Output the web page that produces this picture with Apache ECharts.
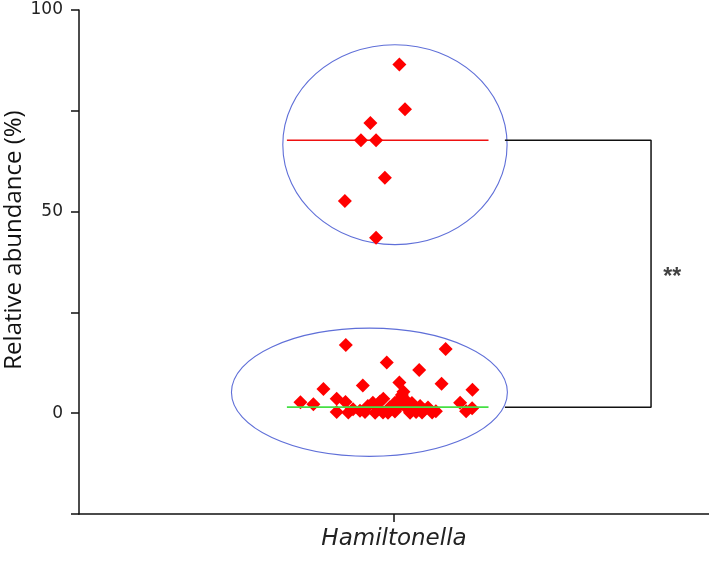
<!DOCTYPE html>
<html><head><meta charset="utf-8">
<script src="https://cdn.jsdelivr.net/npm/echarts@6/dist/echarts.min.js"></script>
<style>html,body{margin:0;padding:0;background:#fff}#c{width:709px;height:562px}</style>
</head><body><div id="c"></div>
<script>
// Category and tick labels
const categories = ['Hamiltonella'];
const yTicks = [-25, 0, 25, 50, 75, 100];
const yLabelled = [0, 50, 100];
// Group with high abundance: [jitter, value %]
const highGroup = [
  [0.017, 86.5], [0.035, 75.4], [-0.075, 72.0], [-0.105, 67.7],
  [-0.057, 67.7], [-0.029, 58.4], [-0.156, 52.6], [-0.057, 43.5]
];
// Group with low abundance: [jitter, value %]
const lowGroup = [
  [-0.153, 16.9], [-0.023, 12.6], [0.164, 15.9], [0.080, 10.7],
  [-0.224, 6.0], [-0.099, 6.9], [0.017, 7.6], [0.030, 5.3],
  [0.151, 7.3], [0.249, 5.8], [-0.297, 2.7], [-0.256, 2.2],
  [-0.182, 3.6], [-0.154, 2.8], [-0.182, 0.3], [-0.145, 0.2],
  [0.210, 2.6], [0.229, 0.5], [0.248, 1.2], [-0.034, 3.6],
  [-0.108, 0.6], [-0.083, 1.8], [-0.067, 2.6], [-0.051, 1.2],
  [-0.035, 0.2], [-0.013, 1.5], [0.003, 0.4], [0.019, 2.0],
  [0.035, 3.4], [0.044, 1.0], [0.057, 2.5], [0.070, 0.3],
  [0.083, 1.8], [0.095, 0.8], [0.108, 1.4], [0.121, 0.2],
  [0.133, 0.5], [-0.092, 0.3], [-0.060, 0.1], [-0.019, 0.1],
  [0.013, 3.0], [0.051, 0.1], [0.089, 0.2], [0.025, 4.5],
  [0.003, 2.6], [-0.044, 2.9], [-0.130, 1.0]
];
// Medians
const highMedian = 67.7;
const lowMedian = 1.5;
const medianSpan = [-0.34, 0.30];
// Group ellipses: [centre jitter, centre value, half width (jitter), half height (%)]
const ellipses = [
  [0.003, 66.6, 0.356, 24.8],
  [-0.078, 5.2, 0.438, 15.9]
];
// Significance bracket
const bracketX = [0.352, 0.816];
const sigLabel = '**';
const sigPos = [0.883, 33.7];
// Category tick position on the jitter scale
const categoryTicks = [0];

const chart = echarts.init(document.getElementById('c'), null, {renderer: 'canvas'});
const axisColor = '#111';
const option = {
  animation: false,
  backgroundColor: '#ffffff',
  grid: {left: 79, right: 0, top: 10, bottom: 48, containLabel: false, outerBoundsMode: 'none'},
  xAxis: [
    {
      type: 'category', data: categories, boundaryGap: true,
      axisLine: {onZero: false, lineStyle: {color: axisColor, width: 1.5}},
      axisTick: {show: true, alignWithLabel: true, length: 8, lineStyle: {color: axisColor, width: 1.5}},
      axisLabel: {fontFamily: 'DejaVu Sans', fontStyle: 'italic', fontSize: 23, color: '#222', margin: 14},
      splitLine: {show: false}
    },
    {
      type: 'value', min: -1, max: 1, position: 'bottom', offset: 0,
      axisLine: {show: false, onZero: false},
      axisTick: {show: true, customValues: categoryTicks, length: 8, lineStyle: {color: axisColor, width: 1.5}},
      axisLabel: {show: true, customValues: categoryTicks, formatter: () => ''},
      splitLine: {show: false}
    }
  ],
  yAxis: {
    type: 'value', min: -25, max: 100, interval: 25,
    name: 'Relative abundance (%)', nameLocation: 'middle', nameGap: 53, nameMoveOverlap: false,
    nameTextStyle: {fontFamily: 'Open Sans', fontSize: 24, color: '#111', padding: [0, 0, 0, 44]},
    axisLine: {show: true, onZero: false, lineStyle: {color: axisColor, width: 1.5}},
    axisTick: {show: true, length: 8, lineStyle: {color: axisColor, width: 1.5}},
    axisLabel: {
      fontFamily: 'DejaVu Sans', fontSize: 17, color: '#222', margin: 16,
      formatter: v => yLabelled.indexOf(v) >= 0 ? String(v) : ''
    },
    splitLine: {show: false}
  },
  series: [
    {
      type: 'custom', xAxisIndex: 1, yAxisIndex: 0, z: 1,
      data: ellipses,
      renderItem: (params, api) => {
        const c = api.coord([api.value(0), api.value(1)]);
        const e = api.coord([api.value(0) + api.value(2), api.value(1) + api.value(3)]);
        return {
          type: 'ellipse',
          shape: {cx: c[0], cy: c[1], rx: Math.abs(e[0] - c[0]), ry: Math.abs(c[1] - e[1])},
          style: {fill: 'none', stroke: '#5f6fd8', lineWidth: 1.1}
        };
      }
    },
    {
      type: 'line', xAxisIndex: 1, symbol: 'none', z: 2,
      data: [[medianSpan[0], highMedian], [medianSpan[1], highMedian]],
      lineStyle: {color: '#ee1111', width: 1.5}
    },
    {
      type: 'line', xAxisIndex: 1, symbol: 'none', z: 5,
      data: [[medianSpan[0], lowMedian], [medianSpan[1], lowMedian]],
      lineStyle: {color: '#44e044', width: 1.8}
    },
    {
      type: 'line', xAxisIndex: 1, symbol: 'none', z: 2,
      data: [[bracketX[0], highMedian], [bracketX[1], highMedian], [bracketX[1], lowMedian], [bracketX[0], lowMedian]],
      lineStyle: {color: '#111', width: 1.5}
    },
    {
      type: 'scatter', xAxisIndex: 1, symbol: 'diamond', symbolSize: 14, z: 3,
      data: highGroup, itemStyle: {color: '#ff0000', opacity: 1}
    },
    {
      type: 'scatter', xAxisIndex: 1, symbol: 'diamond', symbolSize: 14, z: 3,
      data: lowGroup, itemStyle: {color: '#ff0000', opacity: 1}
    },
    {
      type: 'scatter', xAxisIndex: 1, symbolSize: 0, z: 4,
      data: [sigPos],
      label: {show: true, position: 'inside', formatter: sigLabel, fontFamily: 'Liberation Sans', fontWeight: 'bold', fontSize: 23, color: '#111'}
    }
  ]
};
chart.setOption(option);
</script></body></html>
